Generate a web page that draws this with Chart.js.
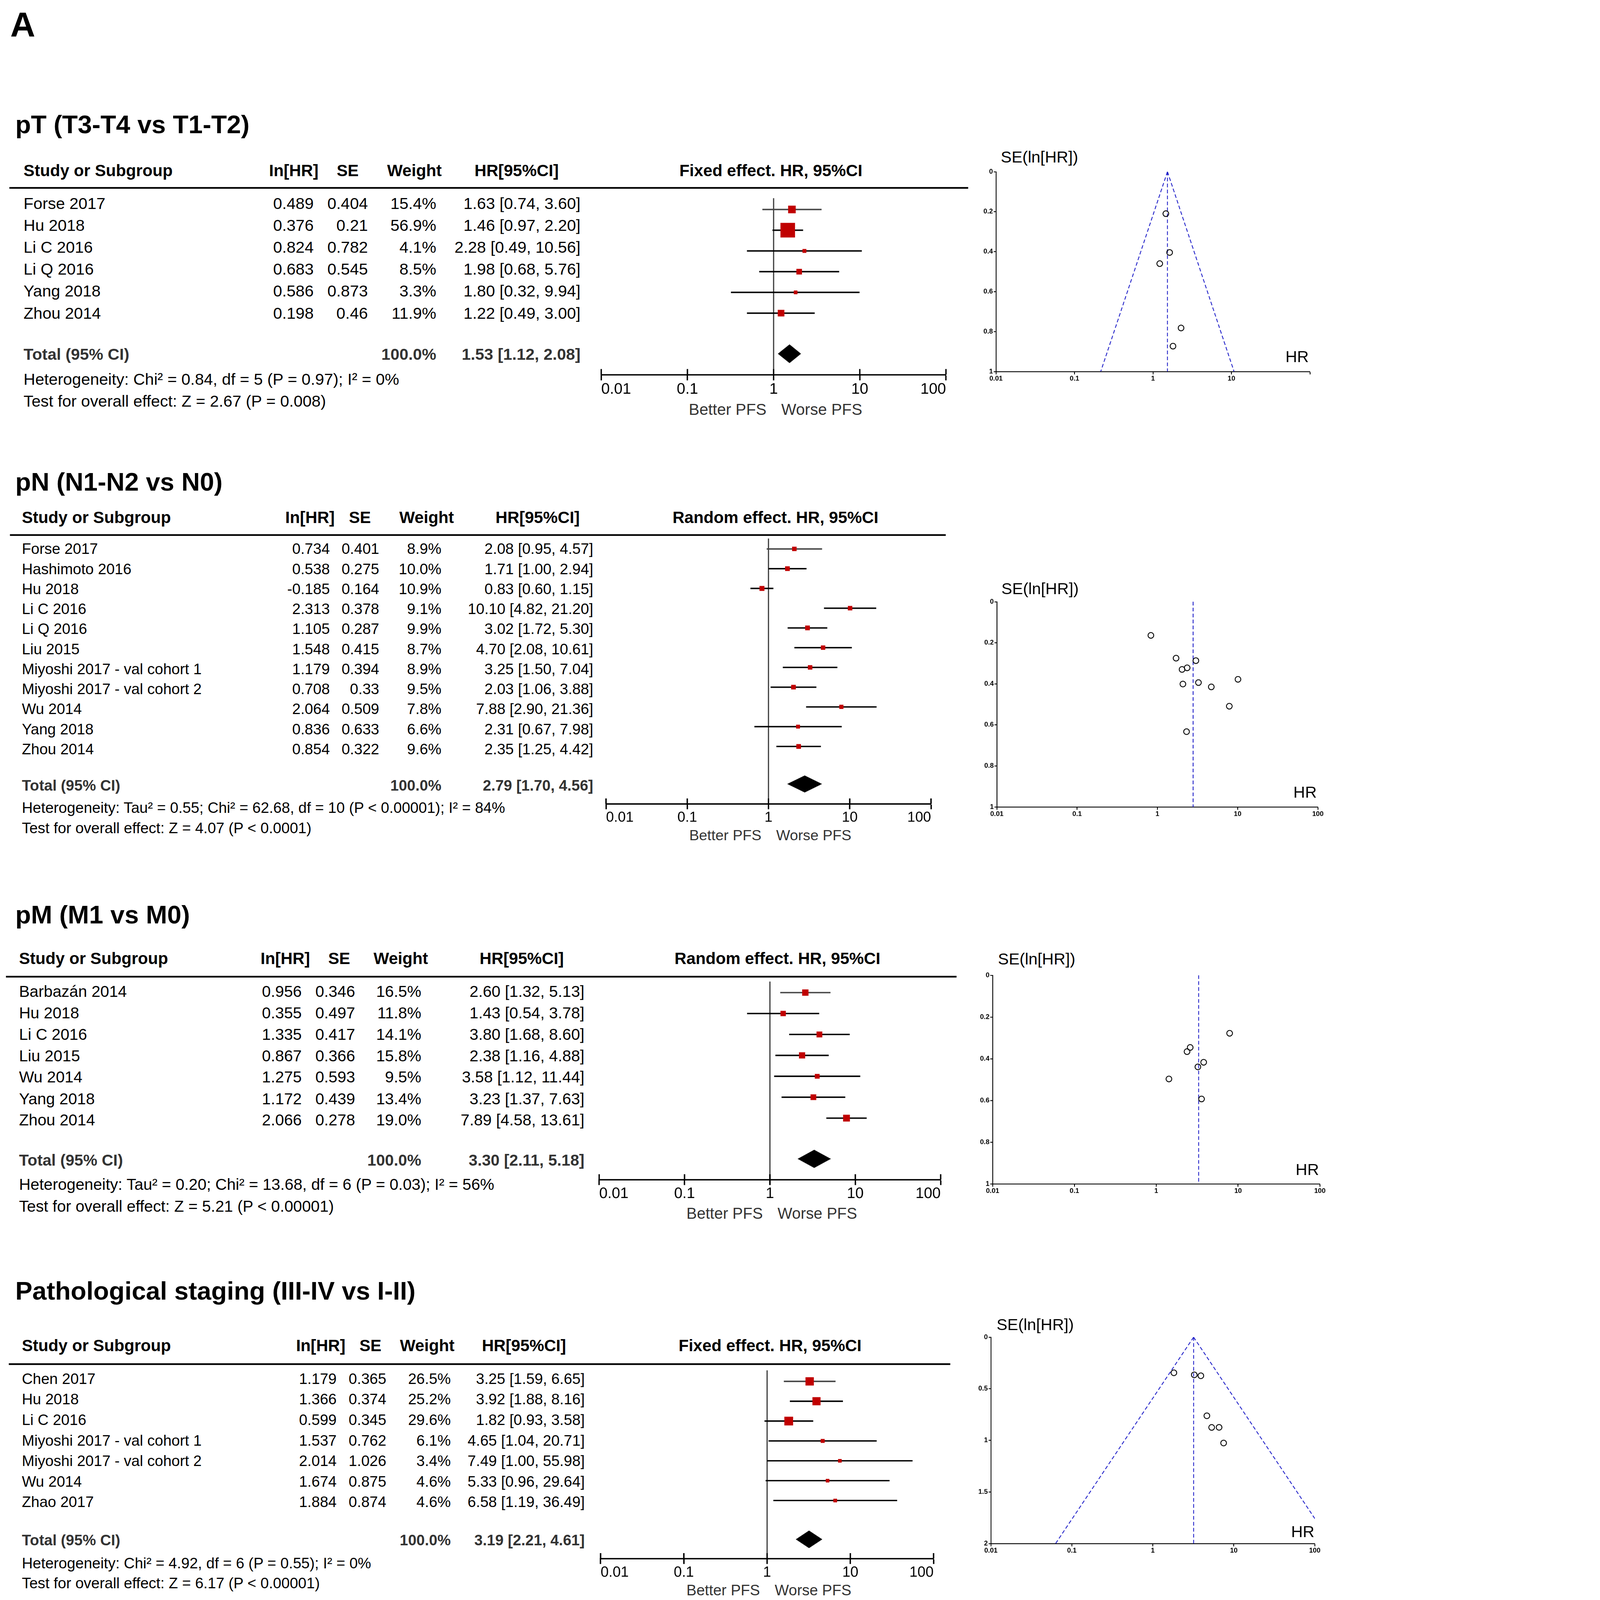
<!DOCTYPE html>
<html>
<head>
<meta charset="utf-8">
<script src="https://cdn.jsdelivr.net/npm/chart.js@4.4.0/dist/chart.umd.min.js"></script>
<style>
html,body{margin:0;padding:0;background:#fff;overflow:hidden;}
#page{position:relative;width:4695px;height:5637px;overflow:hidden;background:#fff;font-family:"Liberation Sans",Arial,sans-serif;transform-origin:0 0;}
.t{position:absolute;line-height:0;white-space:nowrap;}
.hl{position:absolute;background:#000;}
canvas{position:absolute;}
</style>
</head>
<body>
<div id="page"></div>
<script>
// ---- data: pT (T3-T4 vs T1-T2)
const ptStudies = ['Forse 2017','Hu 2018','Li C 2016','Li Q 2016','Yang 2018','Zhou 2014'];
const ptLnHR = [0.489, 0.376, 0.824, 0.683, 0.586, 0.198];
const ptSE = [0.404, 0.21, 0.782, 0.545, 0.873, 0.46];
const ptWeight = [15.4, 56.9, 4.1, 8.5, 3.3, 11.9];
const ptHR = [1.63, 1.46, 2.28, 1.98, 1.80, 1.22];
const ptLo = [0.74, 0.97, 0.49, 0.68, 0.32, 0.49];
const ptHi = [3.60, 2.20, 10.56, 5.76, 9.94, 3.00];
const ptTotal = [1.53, 1.12, 2.08];
const ptFunnelHR = [1.63, 1.46, 2.28, 1.80, 1.22];
const ptFunnelSE = [0.404, 0.21, 0.782, 0.873, 0.46];
const ptLimitSE = [0, 1];
const ptLimitLo = [1.53, 0.216];
const ptLimitHi = [1.53, 10.8];

// ---- data: pN (N1-N2 vs N0)
const pnStudies = ['Forse 2017','Hashimoto 2016','Hu 2018','Li C 2016','Li Q 2016','Liu 2015',
  'Miyoshi 2017 - val cohort 1','Miyoshi 2017 - val cohort 2','Wu 2014','Yang 2018','Zhou 2014'];
const pnLnHR = [0.734, 0.538, -0.185, 2.313, 1.105, 1.548, 1.179, 0.708, 2.064, 0.836, 0.854];
const pnSE = [0.401, 0.275, 0.164, 0.378, 0.287, 0.415, 0.394, 0.33, 0.509, 0.633, 0.322];
const pnWeight = [8.9, 10.0, 10.9, 9.1, 9.9, 8.7, 8.9, 9.5, 7.8, 6.6, 9.6];
const pnHR = [2.08, 1.71, 0.83, 10.10, 3.02, 4.70, 3.25, 2.03, 7.88, 2.31, 2.35];
const pnLo = [0.95, 1.00, 0.60, 4.82, 1.72, 2.08, 1.50, 1.06, 2.90, 0.67, 1.25];
const pnHi = [4.57, 2.94, 1.15, 21.20, 5.30, 10.61, 7.04, 3.88, 21.36, 7.98, 4.42];
const pnTotal = [2.79, 1.70, 4.56];

// ---- data: pM (M1 vs M0)
const pmStudies = ['Barbazán 2014','Hu 2018','Li C 2016','Liu 2015','Wu 2014','Yang 2018','Zhou 2014'];
const pmLnHR = [0.956, 0.355, 1.335, 0.867, 1.275, 1.172, 2.066];
const pmSE = [0.346, 0.497, 0.417, 0.366, 0.593, 0.439, 0.278];
const pmWeight = [16.5, 11.8, 14.1, 15.8, 9.5, 13.4, 19.0];
const pmHR = [2.60, 1.43, 3.80, 2.38, 3.58, 3.23, 7.89];
const pmLo = [1.32, 0.54, 1.68, 1.16, 1.12, 1.37, 4.58];
const pmHi = [5.13, 3.78, 8.60, 4.88, 11.44, 7.63, 13.61];
const pmTotal = [3.30, 2.11, 5.18];

// ---- data: Pathological staging (III-IV vs I-II)
const stStudies = ['Chen 2017','Hu 2018','Li C 2016','Miyoshi 2017 - val cohort 1',
  'Miyoshi 2017 - val cohort 2','Wu 2014','Zhao 2017'];
const stLnHR = [1.179, 1.366, 0.599, 1.537, 2.014, 1.674, 1.884];
const stSE = [0.365, 0.374, 0.345, 0.762, 1.026, 0.875, 0.874];
const stWeight = [26.5, 25.2, 29.6, 6.1, 3.4, 4.6, 4.6];
const stHR = [3.25, 3.92, 1.82, 4.65, 7.49, 5.33, 6.58];
const stLo = [1.59, 1.88, 0.93, 1.04, 1.00, 0.96, 1.19];
const stHi = [6.65, 8.16, 3.58, 20.71, 55.98, 29.64, 36.49];
const stTotal = [3.19, 2.21, 4.61];
const stLimitSE = [0, 2];
const stLimitLo = [3.19, 0.063];
const stLimitHi = [3.19, 161];

const hrTicks = [0.01, 0.1, 1, 10, 100];

const panels = [
  { title:'pT (T3-T4 vs T1-T2)', model:'Fixed effect. HR, 95%CI',
    studies:ptStudies, lnhr:ptLnHR, se:ptSE, weight:ptWeight, hr:ptHR, lo:ptLo, hi:ptHi, total:ptTotal,
    het:'Heterogeneity: Chi² = 0.84, df = 5 (P = 0.97); I² = 0%',
    test:'Test for overall effect: Z = 2.67 (P = 0.008)',
    L:{titleY:438, headY:600, lineY:662, lineX0:33, lineX1:3411, nameX:83, hdrX:[1035,1225,1460,1820],
       colX:[1105,1296,1537,2045], font:57, row0:704, step:77.3, diamondY:1242, diamondH:33, hetY:1336, testY:1413,
       fx0:2096, fx1:3355, axisY:1320, tick:20, tickFont:54, pfsY:1442, pfsFont:56, modelX:2716, boxK:6.8},
    F:{hr:ptFunnelHR, se:ptFunnelSE, pooled:ptTotal[0], seMax:1, step:0.2, limSE:ptLimitSE, limLo:ptLimitLo, limHi:ptLimitHi,
       x0:3509, x1:4615, y0:605, y1:1309, seX:3526, seY:553, hrX:4611, hrY:1256, hide100:true} },
  { title:'pN (N1-N2 vs N0)', model:'Random effect. HR, 95%CI',
    studies:pnStudies, lnhr:pnLnHR, se:pnSE, weight:pnWeight, hr:pnHR, lo:pnLo, hi:pnHi, total:pnTotal,
    het:'Heterogeneity: Tau² = 0.55; Chi² = 62.68, df = 10 (P < 0.00001); I² = 84%',
    test:'Test for overall effect: Z = 4.07 (P < 0.0001)',
    L:{titleY:1697, headY:1823, lineY:1885, lineX0:35, lineX1:3332, nameX:77, hdrX:[1092,1268,1503,1894],
       colX:[1162,1336,1555,2090], font:53, row0:1922, step:70.5, diamondY:2761, diamondH:30, hetY:2846, testY:2917,
       fx0:2135, fx1:3280, axisY:2832, tick:19, tickFont:50, pfsY:2942, pfsFont:52, modelX:2732, boxK:5.3},
    F:{hr:pnHR, se:pnSE, pooled:pnTotal[0], seMax:1, step:0.2,
       x0:3512, x1:4643, y0:2120, y1:2843, seX:3528, seY:2073, hrX:4639, hrY:2790} },
  { title:'pM (M1 vs M0)', model:'Random effect. HR, 95%CI',
    studies:pmStudies, lnhr:pmLnHR, se:pmSE, weight:pmWeight, hr:pmHR, lo:pmLo, hi:pmHi, total:pmTotal,
    het:'Heterogeneity: Tau² = 0.20; Chi² = 13.68, df = 6 (P = 0.03); I² = 56%',
    test:'Test for overall effect: Z = 5.21 (P < 0.00001)',
    L:{titleY:3222, headY:3377, lineY:3441, lineX0:21, lineX1:3370, nameX:67, hdrX:[1005,1195,1412,1838],
       colX:[1063,1251,1484,2059], font:56, row0:3481, step:75.5, diamondY:4081, diamondH:32, hetY:4173, testY:4250,
       fx0:2108, fx1:3317, axisY:4156, tick:19, tickFont:53, pfsY:4275, pfsFont:55, modelX:2739, boxK:5.5},
    F:{hr:pmHR, se:pmSE, pooled:pmTotal[0], seMax:1, step:0.2,
       x0:3497, x1:4650, y0:3436, y1:4171, seX:3516, seY:3378, hrX:4647, hrY:4120} },
  { title:'Pathological staging (III-IV vs I-II)', model:'Fixed effect. HR, 95%CI',
    studies:stStudies, lnhr:stLnHR, se:stSE, weight:stWeight, hr:stHR, lo:stLo, hi:stHi, total:stTotal,
    het:'Heterogeneity: Chi² = 4.92, df = 6 (P = 0.55); I² = 0%',
    test:'Test for overall effect: Z = 6.17 (P < 0.00001)',
    L:{titleY:4548, headY:4741, lineY:4806, lineX0:31, lineX1:3348, nameX:77, hdrX:[1130,1305,1505,1846],
       colX:[1186,1361,1588,2060], font:53, row0:4846, step:72.3, diamondY:5421, diamondH:31, hetY:5508, testY:5578,
       fx0:2108, fx1:3297, axisY:5491, tick:19, tickFont:51, pfsY:5603, pfsFont:53, modelX:2713, boxK:5.7},
    F:{hr:stHR, se:stSE, pooled:stTotal[0], seMax:2, step:0.5, limSE:stLimitSE, limLo:stLimitLo, limHi:stLimitHi,
       x0:3491, x1:4632, y0:4711, y1:5438, seX:3511, seY:4666, hrX:4631, hrY:5395} }
];

Chart.defaults.font.family = '"Liberation Sans", Arial, sans-serif';
const page = document.getElementById('page');

// fit the page into the window if the viewport is smaller than the figure
const fit = Math.min(window.innerWidth / 4695, window.innerHeight / 5637);
if (fit > 0 && fit < 0.995) page.style.transform = 'scale(' + fit + ')';

function addText(x, y, s, size, opt) {
  opt = opt || {};
  const d = document.createElement('div');
  d.className = 't';
  d.textContent = s;
  d.style.left = x + 'px';
  d.style.top = y + 'px';
  d.style.fontSize = size + 'px';
  d.style.fontWeight = opt.bold ? 'bold' : 'normal';
  d.style.color = opt.color || '#000';
  if (opt.align === 'right') d.style.transform = 'translateX(-100%)';
  if (opt.align === 'center') d.style.transform = 'translateX(-50%)';
  page.appendChild(d);
}
function addLine(x0, x1, y, w) {
  const d = document.createElement('div');
  d.className = 'hl';
  d.style.left = x0 + 'px';
  d.style.top = (y - w / 2) + 'px';
  d.style.width = (x1 - x0) + 'px';
  d.style.height = w + 'px';
  page.appendChild(d);
}
function addCanvas(l, t, w, h) {
  const c = document.createElement('canvas');
  w = Math.round(w); h = Math.round(h);
  c.width = w; c.height = h;
  c.style.left = Math.round(l) + 'px';
  c.style.top = Math.round(t) + 'px';
  c.style.width = w + 'px';
  c.style.height = h + 'px';
  page.appendChild(c);
  return c;
}
function ci(h, l, u) { return h.toFixed(2) + ' [' + l.toFixed(2) + ', ' + u.toFixed(2) + ']'; }

function table(p) {
  const L = p.L;
  addText(54, L.titleY, p.title, 90, {bold:true});
  addText(L.nameX, L.headY, 'Study or Subgroup', 58, {bold:true});
  ['In[HR]', 'SE', 'Weight', 'HR[95%CI]'].forEach((h, k) => addText(L.hdrX[k], L.headY, h, 58, {bold:true, align:'center'}));
  addText(L.modelX, L.headY, p.model, 58, {bold:true, align:'center'});
  addLine(L.lineX0, L.lineX1, L.lineY, 6);
  p.studies.forEach((s, i) => {
    const y = L.row0 + i * L.step + 12;
    addText(L.nameX, y, s, L.font);
    addText(L.colX[0], y, String(p.lnhr[i]), L.font, {align:'right'});
    addText(L.colX[1], y, String(p.se[i]), L.font, {align:'right'});
    addText(L.colX[2], y, p.weight[i].toFixed(1) + '%', L.font, {align:'right'});
    addText(L.colX[3], y, ci(p.hr[i], p.lo[i], p.hi[i]), L.font, {align:'right'});
  });
  const ty = L.diamondY + 6;
  addText(L.nameX, ty, 'Total (95% CI)', L.font, {bold:true, color:'#333'});
  addText(L.colX[2], ty, '100.0%', L.font, {bold:true, color:'#333', align:'right'});
  addText(L.colX[3], ty, ci(p.total[0], p.total[1], p.total[2]), L.font, {bold:true, color:'#333', align:'right'});
  addText(L.nameX, L.hetY, p.het, L.font);
  addText(L.nameX, L.testY, p.test, L.font);
  const one = (L.fx0 + L.fx1) / 2;
  addText(one - 25, L.pfsY, 'Better PFS', L.pfsFont, {align:'right', color:'#333'});
  addText(one + 27, L.pfsY, 'Worse PFS', L.pfsFont, {color:'#333'});
}

function forest(p) {
  const L = p.L;
  const axisH = 110, pad = 14;
  const cv = addCanvas(L.fx0 - pad, L.lineY, L.fx1 - L.fx0 + 2 * pad, L.axisY - L.lineY + axisH);
  const yMin = (L.lineY - L.row0) / L.step;
  const yMax = (L.axisY - L.row0) / L.step;
  const yDiamond = (L.diamondY - L.row0) / L.step;
  const datasets = [{
    data: p.hr.map((v, i) => ({x: v, y: i})),
    pointStyle: 'rect',
    pointRadius: p.weight.map(w => Math.max(13, L.boxK * Math.sqrt(w)) / Math.SQRT2),
    backgroundColor: '#c00000', borderWidth: 0, order: 0
  }];
  p.lo.forEach((lo, i) => datasets.push({
    data: [{x: lo, y: i}, {x: p.hi[i], y: i}], showLine: true,
    borderColor: i === 0 ? '#444' : '#000', borderWidth: 5, pointRadius: 0, order: 1
  }));
  const nullLine = {
    id: 'nullLine',
    beforeDatasetsDraw(chart) {
      const xs = chart.scales.x, a = chart.chartArea, ctx = chart.ctx;
      const px = xs.getPixelForValue(1);
      ctx.save(); ctx.strokeStyle = '#333'; ctx.lineWidth = 4;
      ctx.beginPath(); ctx.moveTo(px, a.top); ctx.lineTo(px, a.bottom); ctx.stroke(); ctx.restore();
    }
  };
  const diamond = {
    id: 'diamond',
    afterDatasetsDraw(chart) {
      const xs = chart.scales.x, ys = chart.scales.y, ctx = chart.ctx;
      const y = ys.getPixelForValue(yDiamond);
      const xl = xs.getPixelForValue(p.total[1]), xc = xs.getPixelForValue(p.total[0]), xr = xs.getPixelForValue(p.total[2]);
      ctx.save(); ctx.fillStyle = '#000';
      ctx.beginPath(); ctx.moveTo(xl, y); ctx.lineTo(xc, y - L.diamondH); ctx.lineTo(xr, y); ctx.lineTo(xc, y + L.diamondH);
      ctx.closePath(); ctx.fill(); ctx.restore();
    }
  };
  const crossTicks = {
    id: 'crossTicks',
    afterDraw(chart) {
      const xs = chart.scales.x, b = chart.chartArea.bottom, ctx = chart.ctx;
      ctx.save(); ctx.strokeStyle = '#000'; ctx.lineWidth = 5;
      xs.ticks.forEach(t => {
        const px = xs.getPixelForValue(t.value);
        ctx.beginPath(); ctx.moveTo(px, b - L.tick); ctx.lineTo(px, b); ctx.stroke();
      });
      ctx.restore();
    }
  };
  new Chart(cv, {
    type: 'scatter',
    data: {datasets},
    options: {
      responsive: false, animation: false, events: [],
      layout: {padding: {left: pad, right: pad, top: 0, bottom: 0}},
      plugins: {legend: {display: false}, tooltip: {enabled: false}},
      scales: {
        x: {
          type: 'logarithmic', min: 0.01, max: 100, position: 'bottom',
          afterBuildTicks: a => { a.ticks = hrTicks.map(v => ({value: v})); },
          afterFit: a => { a.height = axisH; },
          border: {display: true, color: '#000', width: 5},
          grid: {display: true, drawOnChartArea: false, drawTicks: true, tickLength: L.tick, tickWidth: 5, tickColor: '#000'},
          ticks: {autoSkip: false, maxRotation: 0, align: 'inner', padding: 0, color: '#000',
                  font: {size: L.tickFont}, callback: v => String(v)}
        },
        y: {type: 'linear', display: false, reverse: true, min: yMin, max: yMax}
      }
    },
    plugins: [nullLine, diamond, crossTicks]
  });
}

function funnel(p) {
  const f = p.F;
  const yW = 70, xH = 50, padT = 20, padR = 30;
  const cv = addCanvas(f.x0 - yW, f.y0 - padT, f.x1 - f.x0 + yW + padR, f.y1 - f.y0 + padT + xH);
  const dashed = {showLine: true, borderColor: '#1c1cc8', borderWidth: 3, borderDash: [13, 8], pointRadius: 0};
  const datasets = [
    {data: f.hr.map((v, i) => ({x: v, y: f.se[i]})), pointStyle: 'circle', pointRadius: 10,
     borderColor: '#000', borderWidth: 3, backgroundColor: 'rgba(0,0,0,0)'},
    Object.assign({data: [{x: f.pooled, y: 0}, {x: f.pooled, y: f.seMax}]}, dashed)
  ];
  if (f.limSE) {
    datasets.push(Object.assign({data: f.limSE.map((s, i) => ({x: f.limLo[i], y: s}))}, dashed));
    datasets.push(Object.assign({data: f.limSE.map((s, i) => ({x: f.limHi[i], y: s}))}, dashed));
  }
  new Chart(cv, {
    type: 'scatter',
    data: {datasets},
    options: {
      responsive: false, animation: false, events: [],
      layout: {padding: {left: 0, right: padR, top: padT, bottom: 0}},
      plugins: {legend: {display: false}, tooltip: {enabled: false}},
      scales: {
        x: {
          type: 'logarithmic', min: 0.01, max: 100, position: 'bottom',
          afterBuildTicks: a => { a.ticks = hrTicks.map(v => ({value: v})); },
          afterFit: a => { a.height = xH; },
          border: {display: true, color: '#000', width: 3},
          grid: {display: true, drawOnChartArea: false, drawTicks: true, tickLength: 10, tickWidth: 3, tickColor: '#000'},
          ticks: {autoSkip: false, maxRotation: 0, padding: 1, color: '#000', font: {size: 24, weight: 'bold'},
                  callback: v => (f.hide100 && v === 100) ? '' : String(v)}
        },
        y: {
          type: 'linear', reverse: true, min: 0, max: f.seMax, position: 'left',
          afterFit: a => { a.width = yW; },
          border: {display: true, color: '#000', width: 3},
          grid: {display: true, drawOnChartArea: false, drawTicks: true, tickLength: 8, tickWidth: 3, tickColor: '#000'},
          ticks: {stepSize: f.step, padding: 3, color: '#000', font: {size: 24, weight: 'bold'},
                  callback: v => String(+v.toFixed(1))}
        }
      }
    }
  });
  addText(f.seX, f.seY, 'SE(ln[HR])', 57);
  addText(f.hrX, f.hrY, 'HR', 57, {align: 'right'});
}

addText(36, 87, 'A', 122, {bold: true});
panels.forEach(p => { table(p); forest(p); funnel(p); });
</script>
</body>
</html>
